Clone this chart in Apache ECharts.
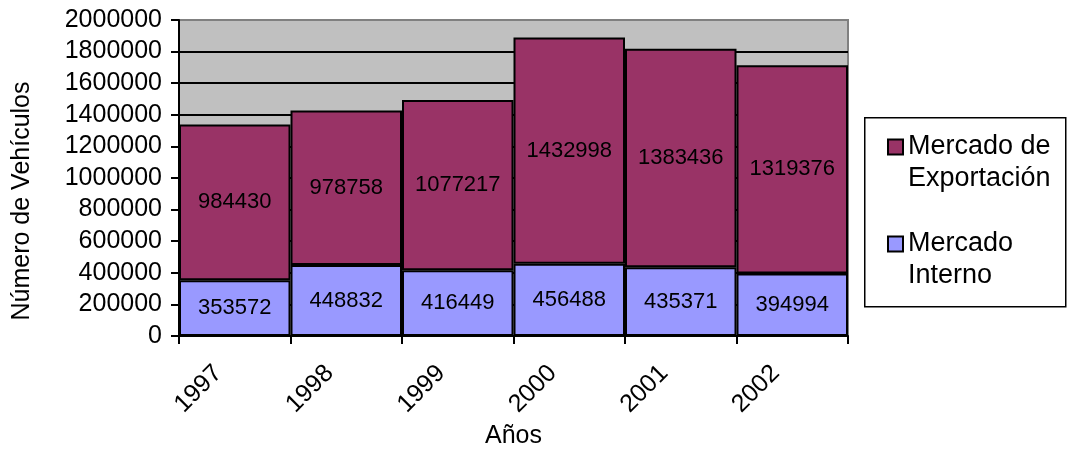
<!DOCTYPE html>
<html><head><meta charset="utf-8">
<script src="https://cdn.jsdelivr.net/npm/echarts@6/dist/echarts.min.js"></script>
<style>html,body{margin:0;padding:0;background:#fff}#c{width:1077px;height:452px}</style>
</head><body><div id="c"></div>
<script>
const years = ['1997', '1998', '1999', '2000', '2001', '2002'];
const mercadoInterno = [353572, 448832, 416449, 456488, 435371, 394994];
const mercadoExportacion = [984430, 978758, 1077217, 1432998, 1383436, 1319376];
const yTicks = { min: 0, max: 2000000, interval: 200000 };
const seriesNames = ['Mercado Interno', 'Mercado de Exportación'];
const legendLabels = { 'Mercado de Exportación': '\nMercado de\nExportación', 'Mercado Interno': '\nMercado\nInterno' };
const yAxisTitle = 'Número de Vehículos';
const xAxisTitle = 'Años';

const FONT = 'Liberation Sans, Arial, sans-serif';
const splitColors = [];
for (let v = yTicks.min; v <= yTicks.max; v += yTicks.interval) splitColors.push(v === yTicks.max ? '#808080' : '#000');

const chart = echarts.init(document.getElementById('c'), null, { renderer: 'canvas' });
chart.setOption({
  animation: false,
  textStyle: { fontFamily: FONT, color: '#000' },
  graphic: [{
    type: 'rect', left: 864, top: 117, z: 0,
    shape: { width: 201, height: 189 },
    style: { fill: '#fff', stroke: '#000', lineWidth: 1.5 }
  }, {
    type: 'text', x: 22, y: 201, rotation: Math.PI / 2, z: 5,
    style: { text: yAxisTitle, fontFamily: FONT, fontSize: 25, fill: '#000', align: 'center', verticalAlign: 'middle' }
  }],
  legend: {
    orient: 'vertical',
    left: 887, top: 99,
    padding: 0,
    itemWidth: 15, itemHeight: 15,
    itemGap: 1,
    icon: 'rect',
    data: [seriesNames[1], seriesNames[0]],
    formatter: n => legendLabels[n],
    textStyle: { fontFamily: FONT, fontSize: 27, color: '#000', lineHeight: 32 },
    z: 5
  },
  grid: {
    left: 179, right: 229, top: 20, bottom: 116,
    outerBoundsMode: 'none', containLabel: false,
    show: true, backgroundColor: '#C0C0C0', borderColor: '#808080', borderWidth: 2
  },
  xAxis: {
    type: 'category', data: years,
    name: xAxisTitle, nameLocation: 'middle', nameGap: 88, nameMoveOverlap: false,
    nameTextStyle: { fontFamily: FONT, fontSize: 25, color: '#000' },
    axisLine: { lineStyle: { color: '#000', width: 2 } },
    axisTick: { show: true, length: 8, lineStyle: { color: '#000', width: 2 } },
    axisLabel: { rotate: 45, margin: 50, verticalAlign: 'bottom', lineHeight: 47, fontFamily: FONT, fontSize: 25, color: '#000' }
  },
  yAxis: {
    type: 'value', min: yTicks.min, max: yTicks.max, interval: yTicks.interval,
    axisLine: { show: true, lineStyle: { color: '#000', width: 2 } },
    axisTick: { show: true, length: 8, lineStyle: { color: '#000', width: 2 } },
    axisLabel: { margin: 17, fontFamily: FONT, fontSize: 25, color: '#000', formatter: v => String(v) },
    splitLine: { show: true, lineStyle: { color: splitColors, width: 2 } }
  },
  series: [
    {
      name: seriesNames[0], type: 'bar', stack: 't', data: mercadoInterno,
      barCategoryGap: '0%',
      itemStyle: { color: '#9999FF', borderColor: '#000', borderWidth: 2 },
      label: { show: true, position: 'inside', color: '#000', fontFamily: FONT, fontSize: 22 }
    },
    {
      name: seriesNames[1], type: 'bar', stack: 't', data: mercadoExportacion,
      barCategoryGap: '0%',
      itemStyle: { color: '#993366', borderColor: '#000', borderWidth: 2 },
      label: { show: true, position: 'inside', color: '#000', fontFamily: FONT, fontSize: 22 }
    }
  ]
});
</script></body></html>
